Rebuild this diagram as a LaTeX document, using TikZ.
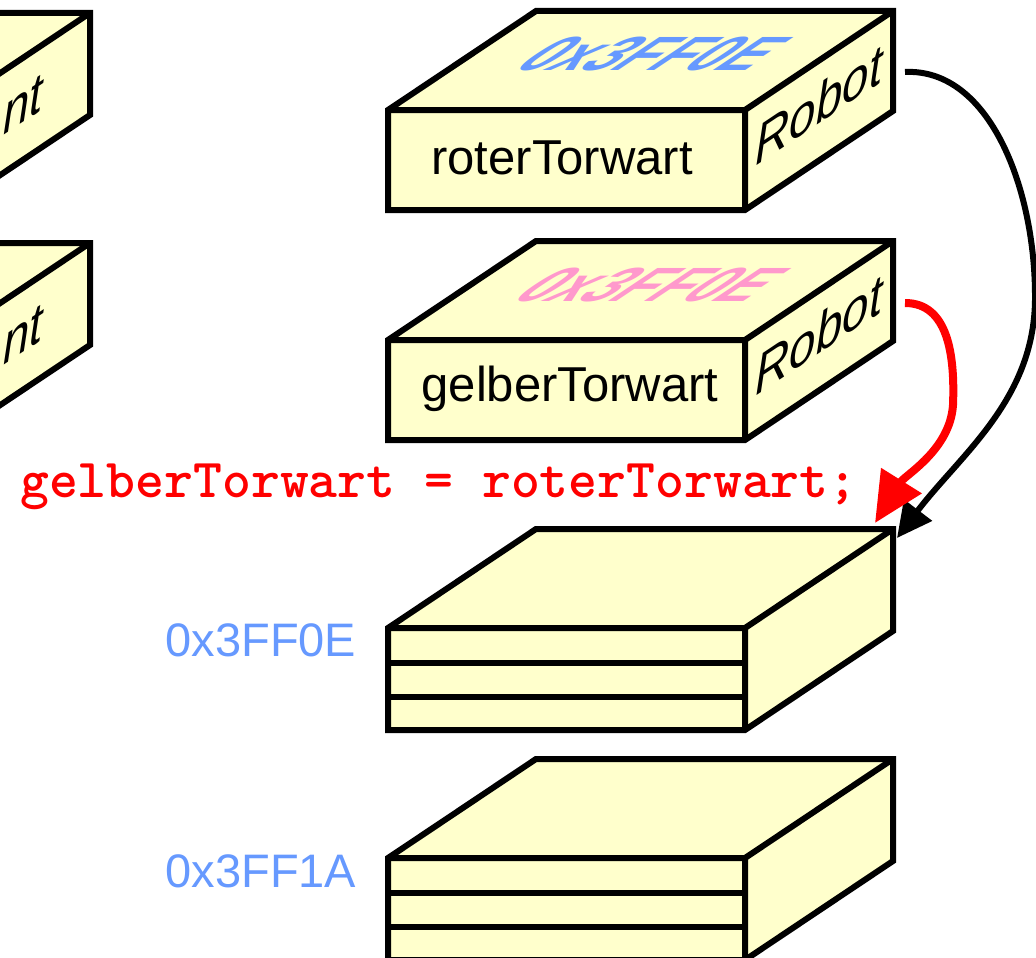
\documentclass[tikz,border=0pt]{standalone}
\usepackage{fontspec}
\setmainfont{Liberation Sans}
\usetikzlibrary{arrows.meta}

\definecolor{boxfill}{HTML}{FFFFCC}
\definecolor{addrblue}{HTML}{6699FF}
\definecolor{addrpink}{HTML}{FF99CC}
\definecolor{codered}{HTML}{FF0000}

\tikzset{
  boxline/.style={line width=6pt, line join=miter, draw=black, fill=boxfill},
  rowline/.style={line width=6pt, draw=black},
  varname/.style={font=\fontsize{49}{56}\selectfont, inner sep=0pt},
  typename/.style={font=\fontsize{50}{56}\selectfont\itshape, inner sep=0pt, yslant=0.67, xscale=0.95, yscale=1.1},
  topaddr/.style={font=\fontsize{48}{56}\selectfont\bfseries, inner sep=0pt, xslant=1.5, xscale=1.2, yscale=1.0},
  sideaddr/.style={font=\fontsize{47}{56}\selectfont, text=addrblue, inner sep=0pt},
  code/.style={font=\fontsize{55}{60}\ttfamily\bfseries, text=codered, inner sep=0pt},
  refarrow/.style={line width=6pt, -{Triangle[length=35pt,width=34pt]}},
  newarrow/.style={line width=8pt, draw=codered, -{Triangle[length=50pt,width=46pt]}}
}

% a flat 3D box: front top-left corner (#1,#2), front height #3
\newcommand\objbox[3]{%
  \filldraw[boxline] (#1,#2) -- ++(148,-99) -- ++(357,0) -- ++(0,#3)
    -- ++(-148,99) -- ++(-357,0) -- cycle;
  \draw[boxline, fill=none] (#1,#2) -- ++(357,0) -- ++(148,-99)
    ++(-148,99) -- ++(0,#3);
}

\begin{document}
\begin{tikzpicture}[x=1pt, y=-1pt]
  \fill[white] (0,0) rectangle (1036,958);
  \useasboundingbox (0,0) rectangle (1036,958);
  \clip (0,0) rectangle (1036,958);

  % primitive variables on the left
  \objbox{-415}{112}{102}
  \node[typename] (intA) at (23,105) {nt};
  \objbox{-415}{342}{102}
  \node[typename] (intB) at (23,335) {nt};

  % reference variables
  \objbox{388}{110}{100}
  \node[varname] (rot) at (562,158) {roterTorwart};
  \node[typename] (rotType) at (819,104) {Robot};
  \node[topaddr, text=addrblue] (rotAddr) at (654,54) {0x3FF0E};

  \objbox{388}{340}{100}
  \node[varname] (gelb) at (570,389) {gelberTorwart};
  \node[typename] (gelbType) at (819,334) {Robot};
  \node[topaddr, text=addrpink] (gelbAddr) at (652,285) {0x3FF0E};

  % assignment statement
  \node[code, anchor=base west] (assign) at (20,497) {gelberTorwart = roterTorwart;};

  % objects in memory
  \objbox{388}{628}{102}
  \draw[rowline] (388,663) -- (745,663);
  \draw[rowline] (388,697) -- (745,697);
  \node[sideaddr] (objA) at (261,640) {0x3FF0E};

  \objbox{388}{858}{102}
  \draw[rowline] (388,893) -- (745,893);
  \draw[rowline] (388,927) -- (745,927);
  \node[sideaddr] (objB) at (261,871) {0x3FF1A};

  % reference arrows
  \coordinate (rotOut) at (905,72);
  \coordinate (gelbOut) at (905,303);
  \coordinate (objTip) at (897,538);
  \coordinate (objTipNew) at (875,523);

  \draw[refarrow] (rotOut) .. controls (990,68) and (1036,190) .. (1035,300)
    .. controls (1034,400) and (960,455) .. (objTip);
  \draw[newarrow] (gelbOut) .. controls (948,303) and (955,355) .. (953,405)
    .. controls (950,450) and (905,475) .. (objTipNew);
\end{tikzpicture}
\end{document}
